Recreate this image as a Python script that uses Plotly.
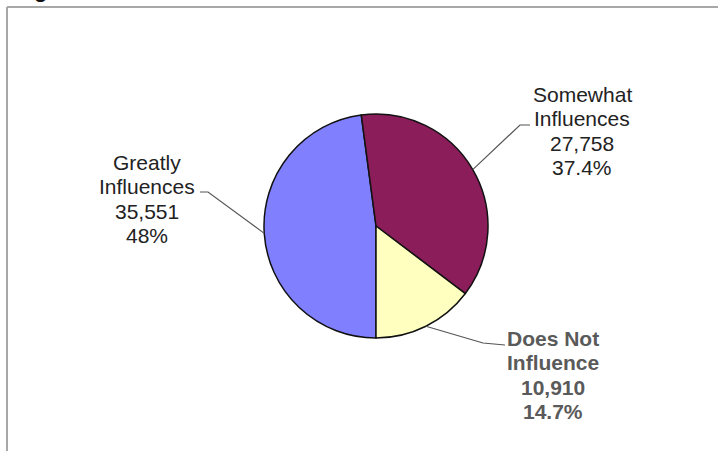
import math
import plotly.graph_objects as go

# Survey responses: how much the factor influences the decision
categories = ["Greatly Influences", "Somewhat Influences", "Does Not Influence"]
label_lines = [["Greatly", "Influences"], ["Somewhat", "Influences"], ["Does Not", "Influence"]]
counts = [35551, 27758, 10910]
percent_labels = ["48%", "37.4%", "14.7%"]
colors = ["#8080FF", "#8C1D5B", "#FFFFC0"]

W, H = 718, 451

# Pie placement in pixels (center and radius)
cx, cy, r = 376, 226, 112
dom_x = [(cx - r) / W, (cx + r) / W]
dom_y = [1 - (cy + r) / H, 1 - (cy - r) / H]


def px(x, y):
    return x / W, 1 - y / H


fig = go.Figure(
    go.Pie(
        labels=categories,
        values=counts,
        sort=False,
        direction="clockwise",
        rotation=180,
        marker=dict(colors=colors, line=dict(color="#111111", width=1.5)),
        textinfo="none",
        hoverinfo="label+value+percent",
        domain=dict(x=dom_x, y=dom_y),
        showlegend=False,
    )
)

# Mid-angle of each slice (degrees clockwise from 12 o'clock)
total = sum(counts)
start = 180.0
mid_angles = []
for v in counts:
    span = 360.0 * v / total
    mid_angles.append(start + span / 2)
    start += span

# Label block: horizontal centre and first-line baseline (pixels), line pitch
label_pos = [(147, 169), (582, 101), (553, 345)]
line_pitch = 24.5
# Leader-line routes after the slice edge: (elbow, end) in pixels
leader_routes = [
    [(208, 192), (200, 192)],
    [(520, 125), (530, 125)],
    [(483, 343), (505, 345)],
]
text_styles = [
    dict(color="#222222", weight="normal"),
    dict(color="#222222", weight="normal"),
    dict(color="#5a5a5a", weight="bold"),
]
FONT = "Liberation Sans, Arial, sans-serif"
FONT_SIZE = 21

shapes = []
annotations = []
for i, cat in enumerate(categories):
    th = math.radians(mid_angles[i])
    ex, ey = cx + r * math.sin(th), cy - r * math.cos(th)
    pts = [(ex, ey)] + leader_routes[i]
    path = "M " + " L ".join(
        f"{px(x, y)[0]:.5f},{px(x, y)[1]:.5f}" for x, y in pts
    )
    shapes.append(dict(type="path", path=path, xref="paper", yref="paper",
                       line=dict(color="#555555", width=1.2)))
    lines = label_lines[i] + [f"{counts[i]:,}", percent_labels[i]]
    bx, by = label_pos[i]
    for k, line in enumerate(lines):
        # text box centre sits roughly a third of an em above the baseline
        lx, ly = px(bx, by + k * line_pitch - 0.33 * FONT_SIZE)
        annotations.append(dict(
            x=lx, y=ly, xref="paper", yref="paper", text=line, showarrow=False,
            xanchor="center", yanchor="middle", align="center",
            font=dict(family=FONT, size=FONT_SIZE, **text_styles[i]),
        ))

# Chart frame (top and left edges)
shapes.append(dict(type="line", xref="paper", yref="paper",
                   x0=7 / W, x1=1.0, y0=1 - 7 / H, y1=1 - 7 / H,
                   line=dict(color="#a8a8a8", width=2)))
shapes.append(dict(type="line", xref="paper", yref="paper",
                   x0=7 / W, x1=7 / W, y0=1 - 7 / H, y1=0,
                   line=dict(color="#a8a8a8", width=2)))

# Heading above the frame
annotations.append(dict(
    x=40 / W, y=1 - 4 / H, xref="paper", yref="paper", text="<b>g</b>",
    showarrow=False, xanchor="center", yanchor="bottom",
    font=dict(family=FONT, size=22, color="#111111"),
))

fig.update_layout(
    width=W, height=H,
    margin=dict(l=0, r=0, t=0, b=0),
    paper_bgcolor="white",
    plot_bgcolor="white",
    shapes=shapes,
    annotations=annotations,
)

fig.write_html("out.html")
